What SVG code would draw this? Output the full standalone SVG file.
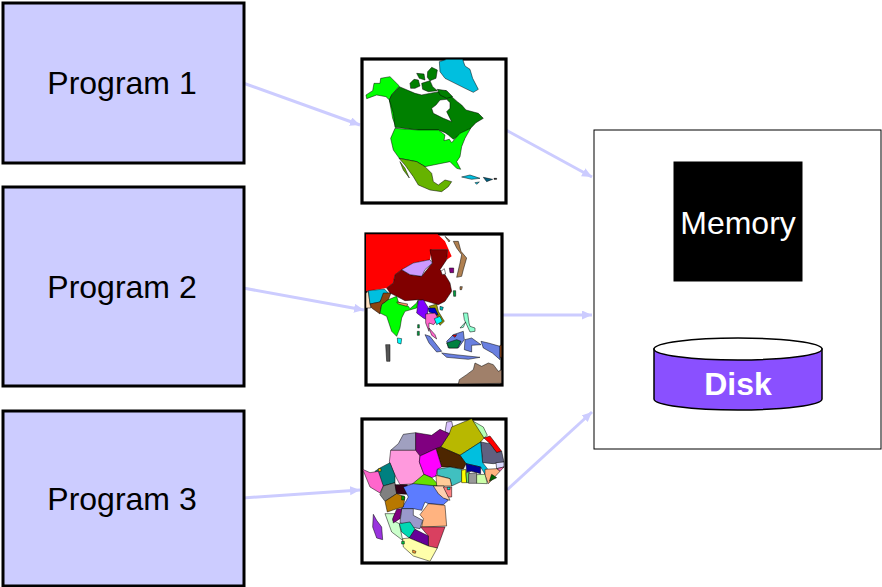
<svg xmlns="http://www.w3.org/2000/svg" width="882" height="587" viewBox="0 0 882 587">
<style>
.prog{fill:#ccccff;stroke:#000;stroke-width:3}
.frame{fill:#fff;stroke:#000;stroke-width:3.2}
.lbl{font-family:"Liberation Sans",Arial,sans-serif;font-size:32px;text-anchor:middle}
.conn{stroke:#ccccff;stroke-width:3;fill:none;marker-end:url(#arr)}
.map polygon{stroke:#000;stroke-width:1.5;stroke-linejoin:round}
.map .nb{stroke:none}
</style>
<defs>
<marker id="arr" markerUnits="userSpaceOnUse" markerWidth="11" markerHeight="10" refX="10" refY="4.5" orient="auto"><path d="M0 0L10 4.5L0 9Z" fill="#ccccff"/></marker>
</defs>
<rect width="882" height="587" fill="#fff"/>
<g id="connectors">
<path class="conn" d="M243 83L360 125"/>
<path class="conn" d="M243 288L364 310"/>
<path class="conn" d="M243 498L360 490"/>
<path class="conn" d="M506 130L592 177"/>
<path class="conn" d="M503 315L592 315"/>
<path class="conn" d="M507 490L592 412"/>
</g>
<g id="program1"><rect class="prog" x="3" y="3" width="241" height="160"/><text class="lbl" x="122" y="94">Program 1</text></g>
<g id="program2"><rect class="prog" x="3" y="187" width="241" height="199"/><text class="lbl" x="122" y="298">Program 2</text></g>
<g id="program3"><rect class="prog" x="3" y="411" width="241" height="175"/><text class="lbl" x="122" y="510">Program 3</text></g>
<g id="map-north-america">
<rect class="frame" x="362" y="59" width="144" height="144"/>
<g class="map" transform="translate(350 50) scale(.3333)">
<polygon fill="#00bfdf" points="268,35 290,28 338,28 345,48 360,58 368,85 385,118 370,127 345,115 315,100 285,85 270,65"/>
<polygon fill="#00ff00" points="48,135 68,122 72,100 90,100 92,85 120,80 148,108 125,135 118,150 108,140 80,135 50,146"/>
<polygon fill="#00ff00" points="118,150 135,185 138,232 128,205"/>
<polygon fill="#008000" points="148,110 195,130 215,135 250,128 268,125 288,122 305,140 322,155 335,165 348,180 385,190 400,205 378,218 362,235 345,245 310,268 295,255 285,248 265,240 205,240 135,232 130,190 118,150 125,135"/>
<polygon fill="#fff" points="270,150 290,148 300,158 300,175 290,185 305,215 280,205 250,190 245,175 258,165"/>
<polygon fill="#008000" points="180,100 192,88 205,90 210,108 195,115 182,115"/>
<polygon fill="#008000" points="200,70 222,72 225,90 208,85"/>
<polygon fill="#008000" points="215,100 240,92 248,110 262,122 235,125 218,118"/>
<polygon fill="#008000" points="233,65 245,52 262,60 258,85 240,92 232,82"/>
<polygon fill="#008000" points="262,118 290,122 308,140 290,145 270,135"/>
<polygon fill="#00ff00" points="135,235 205,240 265,240 285,255 282,272 298,268 305,278 330,250 362,235 345,265 335,290 330,320 320,335 332,358 320,355 300,335 250,345 225,350 200,335 148,325 130,300 122,265"/>
<polygon fill="#66b300" points="147,325 200,335 225,350 245,370 250,395 265,405 285,390 305,395 295,410 275,425 240,420 205,405 190,380 165,345"/>
<polygon fill="#66b300" points="150,335 165,355 178,384 160,360"/>
<polygon fill="#00bfdf" points="335,381 360,375 390,385 365,388"/>
<polygon fill="#006080" points="400,382 428,388 410,395"/>
<polygon fill="#00bfdf" points="375,398 388,396 380,403"/>
<polygon fill="#000" points="432,385 440,385 440,388 432,388"/>
</g></g>
<g id="map-asia">
<rect class="frame" x="366" y="234" width="136" height="151"/>
<g class="map" transform="translate(355 228) scale(.3333)">
<polygon fill="#ff0000" class="nb" points="33,19 248,19 270,40 290,85 275,95 278,65 230,65 225,95 175,105 140,125 120,140 115,165 95,180 33,190"/>
<polygon fill="#ffe0c0" points="33,195 40,190 47,240 33,240"/>
<polygon fill="#00bfdf" points="40,188 88,183 100,195 80,215 75,222 45,228"/>
<polygon fill="#8b4513" points="45,228 75,222 85,195 108,195 100,215 80,230 75,258 50,240"/>
<polygon fill="#800000" points="95,180 115,165 120,140 140,125 165,140 200,145 232,105 225,65 278,65 275,95 255,125 270,140 285,165 290,190 270,220 250,230 215,220 190,215 150,218 125,205 105,195"/>
<polygon fill="#cc99ff" points="140,125 175,105 225,95 232,105 210,125 200,145 165,140"/>
<polygon fill="#fff" points="258,130 268,122 272,138 262,140"/>
<polygon fill="#b08050" points="270,25 285,38 282,42"/>
<polygon fill="#b08050" points="295,40 310,40 318,70 335,90 325,125 320,145 305,148 315,105 320,80 305,60"/>
<polygon fill="#800080" points="283,120 296,120 296,134 285,134"/>
<polygon fill="#b08050" points="315,176 322,176 320,185 315,185"/>
<polygon fill="#00ff00" points="100,215 125,205 130,222 160,235 165,242 185,225 190,215 185,240 150,250 140,270 135,300 125,325 110,310 95,265 75,255 80,230"/>
<polygon fill="#ff9966" points="125,222 158,228 155,235 130,228"/>
<polygon fill="#8000ff" points="190,218 205,215 220,240 215,275 205,270 185,255"/>
<polygon fill="#999900" points="222,235 245,228 250,250 268,280 255,292 240,260"/>
<polygon fill="#0000cc" points="220,240 240,240 250,262 222,252"/>
<polygon fill="#ff66cc" points="212,258 240,255 250,272 236,290 222,285 222,310 212,285"/>
<polygon fill="#00ffff" points="238,272 255,265 262,280 245,290"/>
<polygon fill="#ff66cc" points="222,300 240,320 245,333 230,322"/>
<polygon fill="#00ffff" points="127,330 140,332 138,348 128,345"/>
<polygon fill="#00bfbf" points="255,235 265,238 262,247 255,245"/>
<polygon fill="#8fffd0" points="325,255 338,255 342,285 345,295 360,300 360,310 345,312 335,290 328,275"/>
<polygon fill="#8fffd0" points="315,300 332,282 325,298"/>
<polygon fill="#6a80e0" points="210,320 225,325 260,370 245,372 222,345"/>
<polygon fill="#6a80e0" points="260,375 300,380 375,388 340,394 275,388"/>
<polygon fill="#6a80e0" points="275,340 295,320 325,310 328,335 310,360 280,360"/>
<polygon fill="#ff0000" points="292,322 305,320 300,328"/>
<polygon fill="#008040" points="275,345 305,335 318,340 308,360 282,360"/>
<polygon fill="#6a80e0" points="330,335 350,330 378,350 350,352 350,372 328,365"/>
<polygon fill="#6a80e0" points="378,340 400,345 435,355 435,395 412,375 385,360"/>
<polygon fill="#a05020" points="435,352 440,352 440,388 435,388"/>
<polygon fill="#a0806a" points="310,468 313,455 335,440 355,425 360,405 380,415 400,405 415,410 430,430 440,425 440,466"/>
<polygon fill="#00a040" points="295,188 302,188 302,205 296,205"/>
<polygon fill="#00a040" points="188,290 193,290 193,300 188,300"/>
<polygon fill="#00a040" points="187,310 193,310 193,322 187,322"/>
<polygon fill="#555" points="92,350 105,350 105,400 95,400"/>
</g></g>
<g id="map-africa">
<rect class="frame" x="362" y="419" width="144" height="144"/>
<g class="map" transform="translate(350 412) scale(.3333)">
<polygon fill="#d9c2ff" points="290,30 305,28 310,50 298,65 285,60"/>
<polygon fill="#b3ffb3" points="365,25 400,45 412,70 402,78 380,55"/>
<polygon fill="#b8b800" points="305,45 365,20 402,78 392,90 330,130 272,105 298,65"/>
<polygon fill="#ff0000" points="402,78 420,72 455,118 440,122 420,95"/>
<polygon fill="#a0a0c0" points="160,67 197,62 197,115 122,115 145,95"/>
<polygon fill="#800080" points="197,62 245,70 270,52 298,65 272,105 258,110 210,132 197,120"/>
<polygon fill="#606080" points="392,90 420,95 440,122 455,118 462,150 430,155 398,152"/>
<polygon fill="#00bfdf" points="330,130 392,90 398,152 412,170 405,187 392,165 348,155"/>
<polygon fill="#4d2600" points="258,110 272,105 330,130 348,155 340,172 300,165 275,165"/>
<polygon fill="#ff99dd" points="122,115 197,115 210,132 208,150 222,187 205,215 150,218 135,190 118,150"/>
<polygon fill="#ff00ff" points="210,132 258,110 275,165 262,172 258,192 245,197 222,187 208,150"/>
<polygon fill="#d9d9ff" points="438,152 462,150 462,165 440,170"/>
<polygon fill="#ff66aa" points="440,170 462,165 450,178"/>
<polygon fill="#ffb380" points="405,172 440,170 450,178 415,215 405,190"/>
<polygon fill="#006600" points="425,187 440,197 418,208"/>
<polygon fill="#008080" points="90,168 120,152 135,190 135,212 100,222 75,178"/>
<polygon fill="#ffcc00" points="85,170 93,170 93,178 85,178"/>
<polygon fill="#ff66cc" points="38,172 60,182 85,178 100,222 90,243 60,225"/>
<polygon fill="#808080" points="100,222 135,212 140,245 105,268 90,248"/>
<polygon fill="#66e000" points="188,215 222,187 245,197 262,215 262,225 190,218"/>
<polygon fill="#33001a" points="135,218 172,218 170,247 140,245"/>
<polygon fill="#40c0c0" points="262,172 300,165 335,172 335,208 305,222 300,200 262,190"/>
<polygon fill="#ffcc99" points="258,190 300,200 305,222 260,222"/>
<polygon fill="#ffff00" points="335,175 347,172 350,212 335,212"/>
<polygon fill="#66e066" points="348,182 358,180 356,212 350,212"/>
<polygon fill="#000099" points="348,155 392,165 392,185 365,178 350,180"/>
<polygon fill="#999999" points="356,185 380,182 380,214 356,214"/>
<polygon fill="#ccffaa" points="380,188 405,187 412,215 380,214"/>
<polygon fill="#5c7cff" points="160,225 190,215 262,222 265,245 295,265 280,278 235,275 225,270 215,295 190,290 155,290 175,255"/>
<polygon fill="#ffcfb0" points="250,222 282,222 300,265 280,258 265,245"/>
<polygon fill="#ff8080" points="280,225 305,225 305,255 295,255"/>
<polygon fill="#00e0e0" points="292,226 300,226 300,233 292,233"/>
<polygon fill="#b87800" points="105,268 140,245 165,255 160,285 135,292 112,300"/>
<polygon fill="#00a000" points="155,252 163,252 163,264 155,264"/>
<polygon fill="#ffb380" points="235,275 285,280 290,342 215,345 220,320 210,308"/>
<polygon fill="#9999cc" points="155,290 190,290 190,310 218,325 210,350 180,345 150,332"/>
<polygon fill="#ccffcc" points="105,305 135,305 128,325 148,335 158,385 125,360"/>
<polygon fill="#800080" points="140,292 155,290 150,320 130,333 128,320"/>
<polygon fill="#00d9b3" points="148,335 180,330 195,352 178,378 155,360"/>
<polygon fill="#d94060" points="212,345 285,345 262,408 235,410 235,372"/>
<polygon fill="#660099" points="195,352 235,372 235,402 178,378"/>
<polygon fill="#ffffaa" points="158,380 178,378 235,402 262,408 240,448 190,432 160,405"/>
<polygon fill="#00cc44" points="155,388 163,388 163,396 155,396"/>
<polygon fill="#ff9933" points="188,414 198,418 196,424 188,422"/>
<polygon fill="#9933dd" points="70,307 80,325 95,345 98,383 80,378 68,345"/>
</g></g>
<g id="computer">
<rect x="594" y="130" width="287" height="319" fill="#fff" stroke="#000" stroke-width="1"/>
<g id="memory"><rect x="674" y="162" width="128" height="119" fill="#000" stroke="#000" stroke-width="1"/><text class="lbl" x="738" y="234" fill="#fff">Memory</text></g>
<g id="disk">
<path d="M654 349V399A84 11 0 0 0 822 399V349Z" fill="#8a50ff" stroke="#000" stroke-width="1.5"/>
<ellipse cx="738" cy="349" rx="84" ry="11" fill="#fff" stroke="#000" stroke-width="1.5"/>
<text class="lbl" x="738" y="395" fill="#fff" font-weight="bold">Disk</text>
</g></g>
</svg>
